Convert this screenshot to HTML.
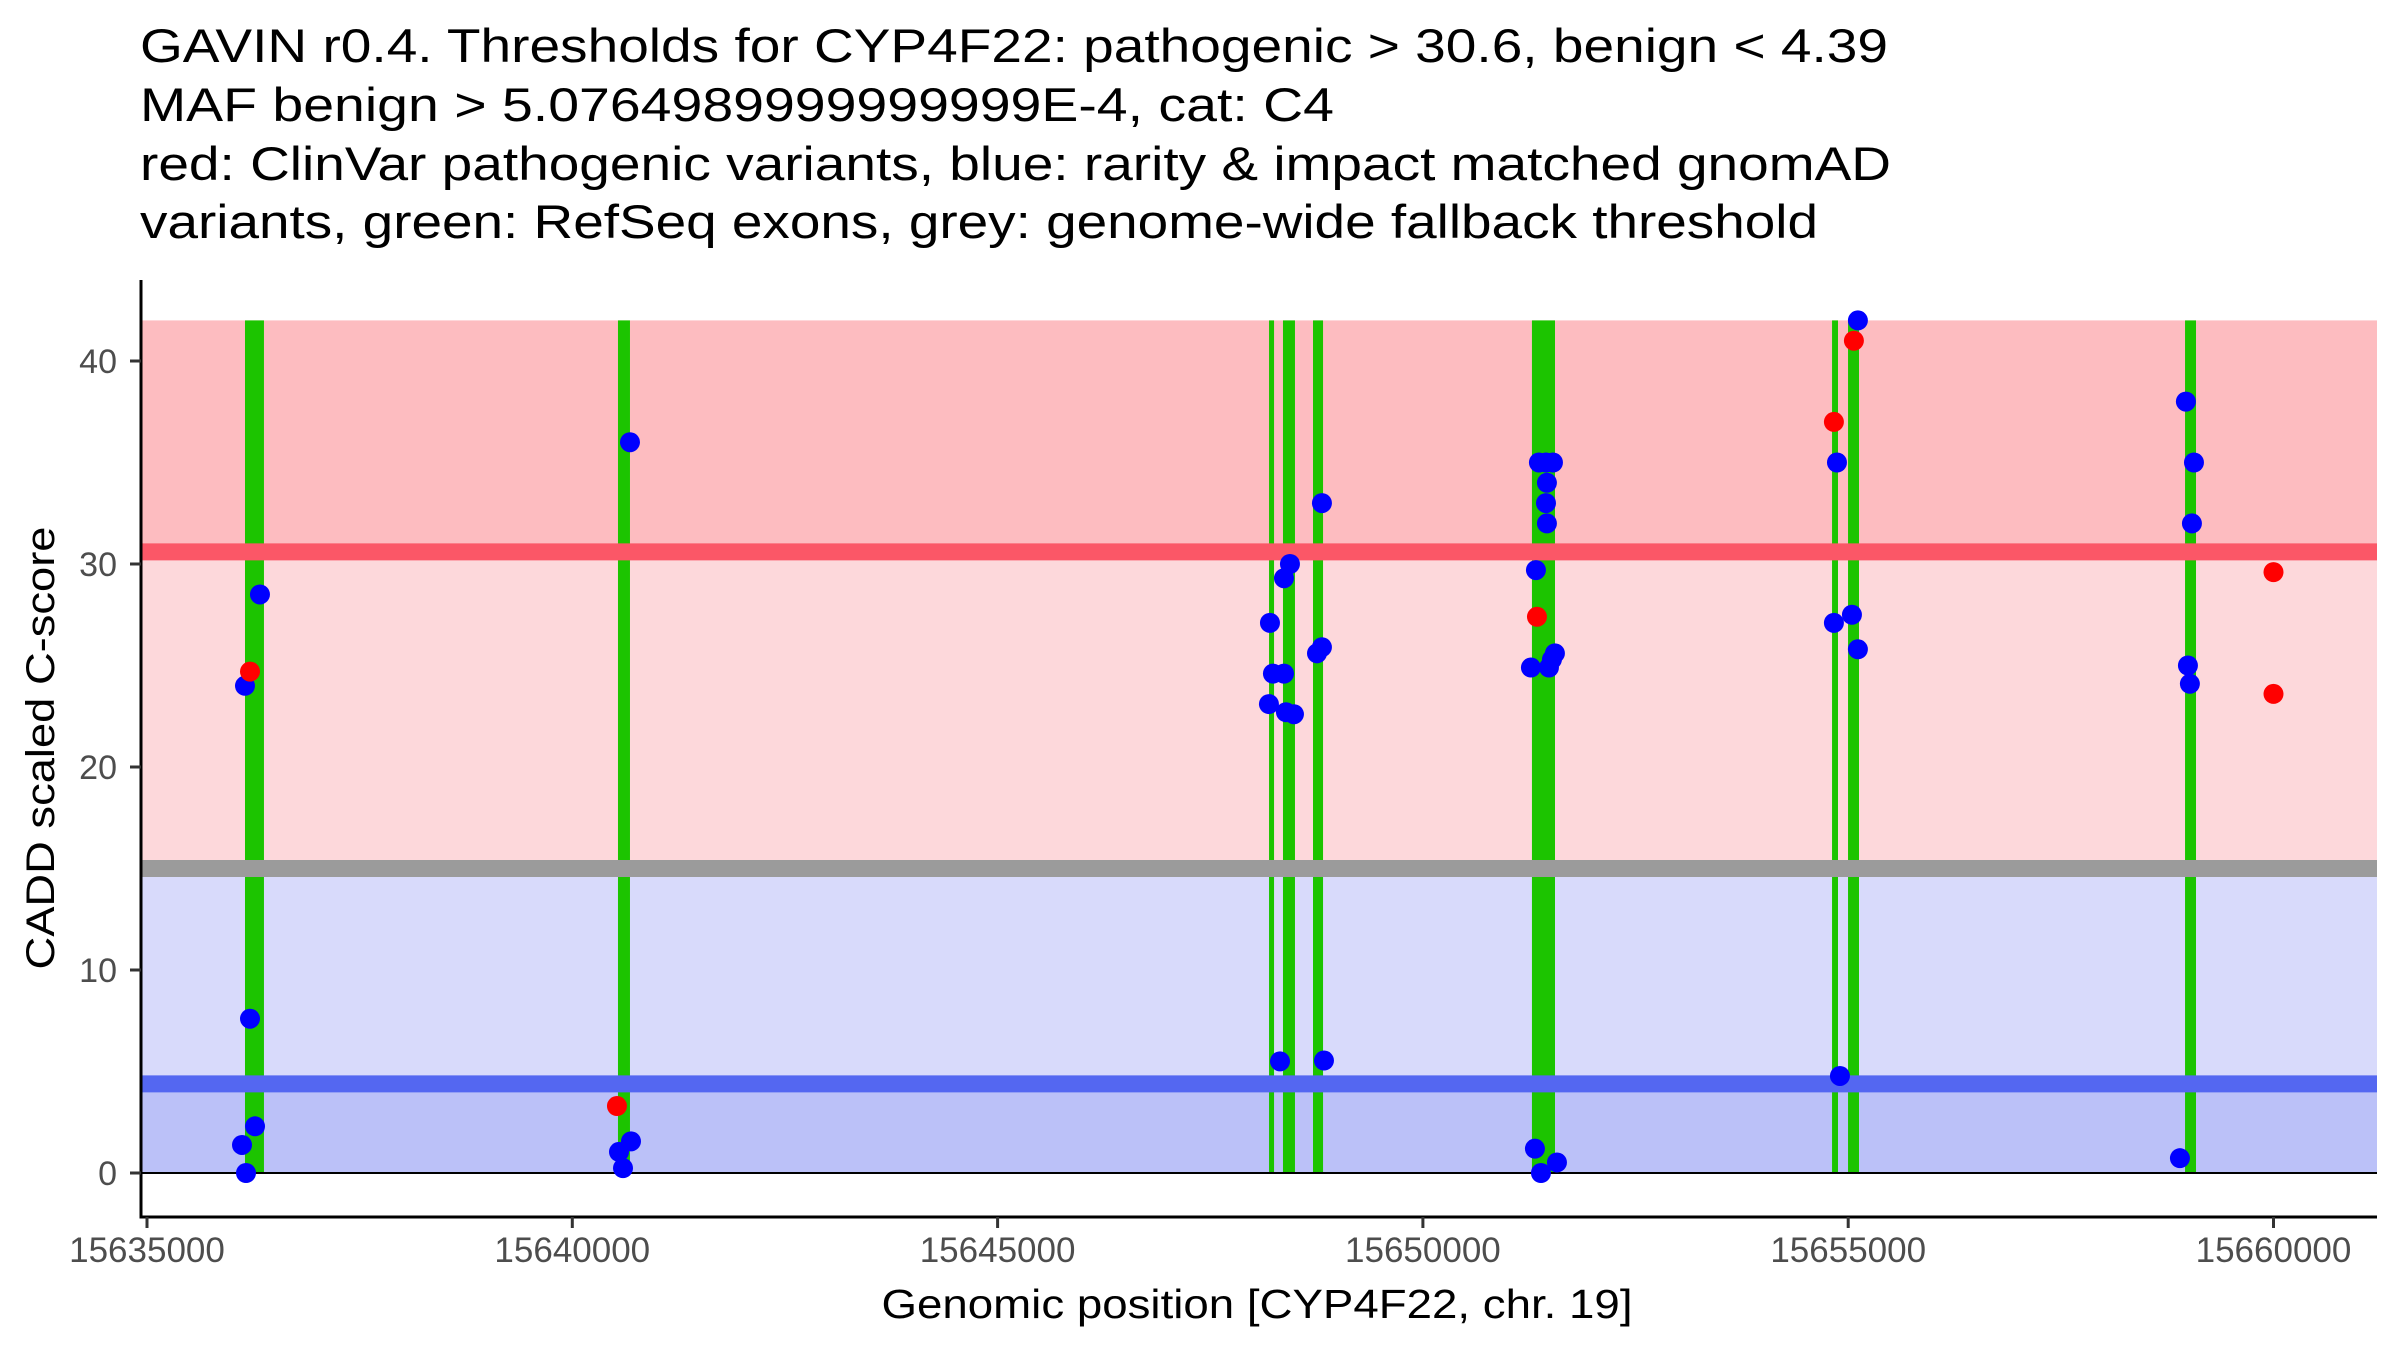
<!DOCTYPE html>
<html><head><meta charset="utf-8"><style>
html,body{margin:0;padding:0;background:#fff;}
svg{display:block;font-family:"Liberation Sans",Arial,sans-serif;}
</style></head><body>
<svg id="chart" width="2400" height="1350" viewBox="0 0 2400 1350" xmlns="http://www.w3.org/2000/svg">
<g font-size="47" fill="#000">
<text x="140" y="62" textLength="1748" lengthAdjust="spacingAndGlyphs">GAVIN r0.4. Thresholds for CYP4F22: pathogenic &gt; 30.6, benign &lt; 4.39</text>
<text x="140" y="121" textLength="1194" lengthAdjust="spacingAndGlyphs">MAF benign &gt; 5.0764989999999999E-4, cat: C4</text>
<text x="140" y="180" textLength="1751" lengthAdjust="spacingAndGlyphs">red: ClinVar pathogenic variants, blue: rarity &amp; impact matched gnomAD</text>
<text x="140" y="238" textLength="1678" lengthAdjust="spacingAndGlyphs">variants, green: RefSeq exons, grey: genome-wide fallback threshold</text>
</g>
<g id="bands"></g>
<g id="exons"></g>
<g id="lines"></g>
<g id="points"></g>
<g id="axes"></g>
</svg>
<script>
// data
const exonStarts = [15636152,15640537,15648191,15648355,15648708,15651282,15654810,15654998,15658960];
const exonEnds   = [15636375,15640678,15648250,15648496,15648826,15651553,15654880,15655127,15659089];
const blueX = [15636164,15636117,15636270,15636211,15636152,15636328,15640678,15640549,15640690,15640596,
  15648202,15648237,15648367,15648190,15648390,15648484,15648367,15648437,15648320,15648813,15648813,15648755,15648837,
  15651329,15651270,15651364,15651447,15651529,15651458,15651447,15651458,15651482,15651517,15651552,15651317,15651388,15651576,
  15654868,15654832,15654903,15655114,15655044,15655114,
  15658970,15659065,15659041,15658994,15659017,15658900];
const blueY = [0,1.38,2.3,7.6,24.0,28.5,36.0,1.04,1.56,0.24,
  27.1,24.6,24.6,23.1,22.7,22.6,29.3,30.0,5.5,33.0,25.9,25.6,5.54,
  29.7,24.9,35.0,35.0,35.0,34.0,33.0,32.0,24.9,25.3,25.6,1.2,0,0.52,
  35.0,27.1,4.78,42.0,27.5,25.8,
  38.0,35.0,32.0,25.0,24.1,0.73];
const redX = [15636211,15640525,15651341,15654832,15655067,15660000,15660000];
const redY = [24.7,3.3,27.4,37.0,41.0,29.6,23.6];
const xTicks = [15635000,15640000,15645000,15650000,15655000,15660000];
const yTicks = [0,10,20,30,40];
const thrPath = 30.6, thrBenign = 4.39, thrGenome = 15.0, yMax = 42;

const NS = "http://www.w3.org/2000/svg";
const X0 = 141, X1 = 2377, YTOP = 280, YAX = 1217;
function xs(v){ return 147 + (v - 15635000) * 0.08506; }
function ys(v){ return 1173 - v * 20.3; }
function mk(tag, attrs, parent){ const e = document.createElementNS(NS, tag); for (const k in attrs) e.setAttribute(k, attrs[k]); parent.appendChild(e); return e; }
const gB = document.getElementById('bands'), gE = document.getElementById('exons'), gL = document.getElementById('lines'), gP = document.getElementById('points'), gA = document.getElementById('axes');

let r;
r = mk('rect', {x:X0, y:ys(yMax), width:X1-X0, height:ys(thrPath)-ys(yMax), fill:'#FDBCC0'}, gB);


r = mk('rect', {x:X0, y:ys(thrPath), width:X1-X0, height:ys(thrGenome)-ys(thrPath), fill:'#FDD8DB'}, gB);


r = mk('rect', {x:X0, y:ys(thrGenome), width:X1-X0, height:ys(thrBenign)-ys(thrGenome), fill:'#D8DAFB'}, gB);


r = mk('rect', {x:X0, y:ys(thrBenign), width:X1-X0, height:ys(0)-ys(thrBenign), fill:'#BBC1F8'}, gB);



for (let i = 0; i < exonStarts.length; i++) {
  const a = xs(exonStarts[i]), b = xs(exonEnds[i]);
  const e = mk('rect', {x:a, y:ys(yMax), width:Math.max(b-a,4), height:ys(0)-ys(yMax), fill:'#1CC400'}, gE);
  
  
}

let l;
l = mk('line', {x1:X0, x2:X1, y1:ys(thrPath), y2:ys(thrPath), stroke:'#FB5767', 'stroke-width':17}, gL);


l = mk('line', {x1:X0, x2:X1, y1:ys(thrGenome), y2:ys(thrGenome), stroke:'#9B9B9B', 'stroke-width':17}, gL);


l = mk('line', {x1:X0, x2:X1, y1:ys(thrBenign), y2:ys(thrBenign), stroke:'#5467F1', 'stroke-width':17}, gL);


l = mk('line', {x1:X0, x2:X1, y1:ys(0), y2:ys(0), stroke:'#000', 'stroke-width':2}, gL);



for (let i = 0; i < blueX.length; i++) {
  const c = mk('circle', {cx:xs(blueX[i]), cy:ys(blueY[i]), r:10, fill:'#0000FF'}, gP);
  
  
}
for (let i = 0; i < redX.length; i++) {
  const c = mk('circle', {cx:xs(redX[i]), cy:ys(redY[i]), r:10, fill:'#FF0000'}, gP);
  
  
}

l = mk('line', {x1:X0, x2:X0, y1:YTOP, y2:YAX+1.5, stroke:'#000', 'stroke-width':3}, gA);


l = mk('line', {x1:X0-1.5, x2:X1, y1:YAX, y2:YAX, stroke:'#000', 'stroke-width':3}, gA);


yTicks.forEach(v => {
  const t = mk('line', {x1:X0-11, x2:X0, y1:ys(v), y2:ys(v), stroke:'#333', 'stroke-width':3}, gA);
  
  
  const s = mk('text', {x:117, y:ys(v)+12, 'text-anchor':'end', 'font-size':34, fill:'#4D4D4D'}, gA);
  s.textContent = v;
  
  
});
xTicks.forEach(v => {
  const t = mk('line', {x1:xs(v), x2:xs(v), y1:YAX, y2:YAX+11, stroke:'#333', 'stroke-width':3}, gA);
  
  
  const s = mk('text', {x:xs(v), y:1262, 'text-anchor':'middle', 'font-size':35, fill:'#4D4D4D'}, gA);
  s.textContent = v;
  
  
});
let tt = mk('text', {x:1257, y:1318, 'text-anchor':'middle', 'font-size':41, fill:'#000', textLength:751, lengthAdjust:'spacingAndGlyphs'}, gA);
tt.textContent = 'Genomic position [CYP4F22, chr. 19]';


tt = mk('text', {x:0, y:0, 'text-anchor':'middle', 'font-size':40, fill:'#000', textLength:443, lengthAdjust:'spacingAndGlyphs', transform:'translate(54,748) rotate(-90)'}, gA);
tt.textContent = 'CADD scaled C-score';


</script>
</body></html>
